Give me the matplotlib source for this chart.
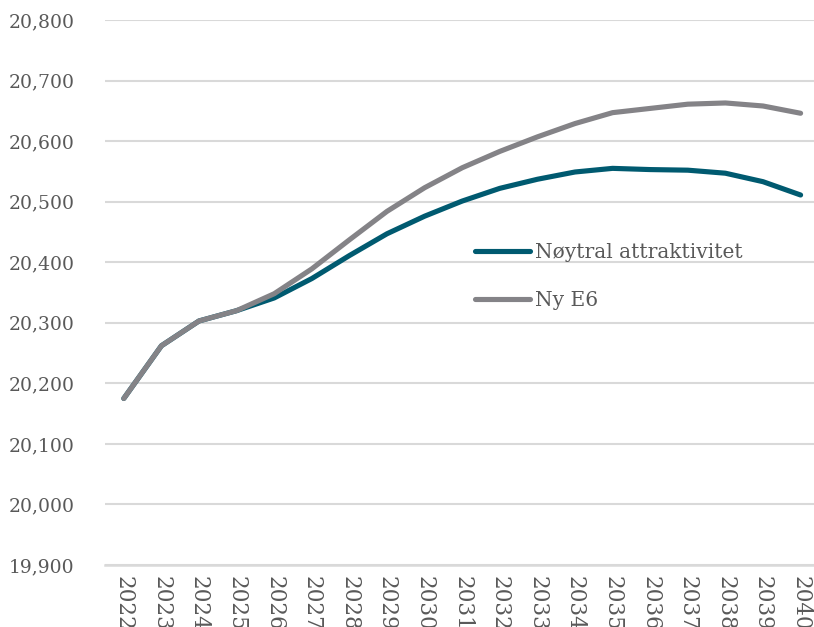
import matplotlib
matplotlib.use("Agg")
import matplotlib.pyplot as plt
from matplotlib.ticker import FuncFormatter, MultipleLocator

years = [str(y) for y in range(2022, 2041)]
noytral = [20175, 20262, 20303, 20320, 20341, 20373, 20411, 20447, 20476, 20501,
           20522, 20537, 20549, 20555, 20553, 20552, 20547, 20533, 20511]
ny_e6 = [20175, 20262, 20303, 20320, 20348, 20389, 20437, 20484, 20523, 20556,
         20583, 20607, 20629, 20647, 20654, 20661, 20663, 20658, 20646]

label_noytral = "Nøytral attraktivitet"
label_e6 = "Ny E6"

plt.rcParams["font.family"] = ["DejaVu Serif"]
text_color = "#595959"
grid_color = "#d9d9d9"

fig = plt.figure(figsize=(8.14, 6.27), dpi=100)
W, H = 814, 627
left, right, top, bottom = 105, 819.4, 20, 565
ax = fig.add_axes([left / W, 1 - bottom / H, (right - left) / W, (bottom - top) / H])

x = range(len(years))
ax.plot(x, noytral, color="#005a70", lw=3.7, solid_capstyle="round",
        solid_joinstyle="round", label=label_noytral, zorder=3)
ax.plot(x, ny_e6, color="#848387", lw=3.7, solid_capstyle="round",
        solid_joinstyle="round", label=label_e6, zorder=4)

ax.set_xlim(-0.5, len(years) - 0.5)
ax.set_ylim(19900, 20800)
ax.yaxis.set_major_locator(MultipleLocator(100))
ax.yaxis.set_major_formatter(FuncFormatter(lambda v, p: f"{v:,.0f}"))
ax.set_xticks(list(x))
ax.set_xticklabels(years, rotation=-90, va="top", ha="center")

ax.grid(axis="y", color=grid_color, lw=1.5, zorder=0)
ax.set_axisbelow(True)
for s in ["top", "right", "left"]:
    ax.spines[s].set_visible(False)
ax.spines["bottom"].set_color(grid_color)
ax.spines["bottom"].set_linewidth(1.8)
ax.tick_params(axis="both", length=0, labelcolor=text_color)
ax.tick_params(axis="y", labelsize=13.5, pad=22)
ax.tick_params(axis="x", labelsize=15.5, pad=8)

leg = ax.legend(loc="upper left", bbox_to_anchor=(475 / W, 1 - 243 / H),
                bbox_transform=fig.transFigure, frameon=False,
                fontsize=14.5, handlelength=2.75, handletextpad=0.25,
                labelspacing=1.42, borderaxespad=0, borderpad=0)
for t in leg.get_texts():
    t.set_color(text_color)

fig.savefig("out.png", dpi=100)
